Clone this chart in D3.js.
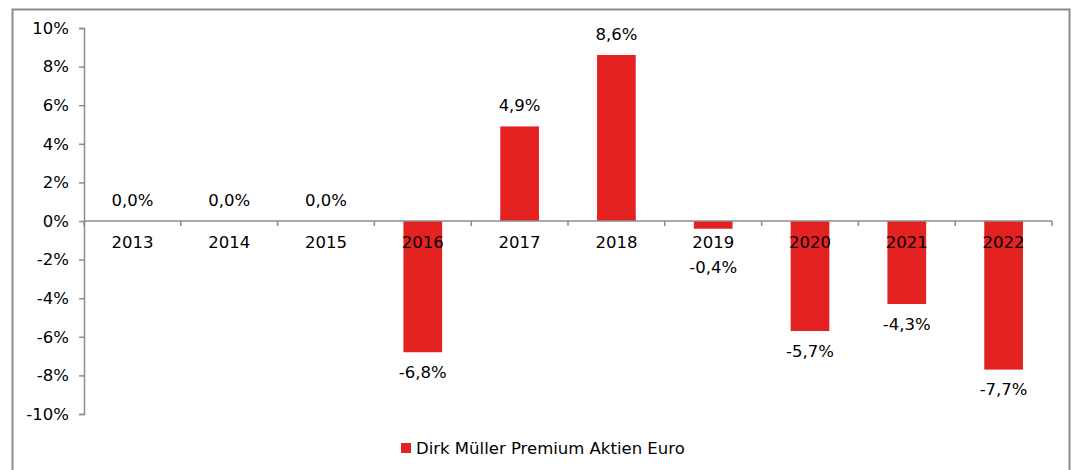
<!DOCTYPE html>
<html>
<head>
<meta charset="utf-8">
<script src="https://cdn.jsdelivr.net/npm/d3@7"></script>
<style>
body { margin:0; background:#fff; }
svg { font-family: Verdana, "DejaVu Sans", sans-serif; }
</style>
</head>
<body>
<script>
// Jahre und Werte
const years = ["2013","2014","2015","2016","2017","2018","2019","2020","2021","2022"];
const values = [0.0, 0.0, 0.0, -6.8, 4.9, 8.6, -0.4, -5.7, -4.3, -7.7];
const yTicks = [-10,-8,-6,-4,-2,0,2,4,6,8,10];
const seriesName = "Dirk Müller Premium Aktien Euro";

const width = 1075, height = 470;
const plot = {left:84, right:1052, top:28, bottom:414};
const red = "#e52222";
const axisColor = "#8c8c8c";
const fontSize = "16.5px";

const svg = d3.select("body").append("svg")
  .attr("width", width)
  .attr("height", height);

// outer frame
svg.append("rect")
  .attr("x", 12.5).attr("y", 9.5)
  .attr("width", 1057).attr("height", 470)
  .attr("fill", "none")
  .attr("stroke", axisColor)
  .attr("stroke-width", 2);

const x = d3.scaleBand()
  .domain(years)
  .range([plot.left, plot.right])
  .paddingInner(0.6)
  .paddingOuter(0.3);

const y = d3.scaleLinear()
  .domain([-10, 10])
  .range([plot.bottom, plot.top]);

// bars
svg.selectAll("rect.bar")
  .data(values)
  .enter()
  .append("rect")
  .attr("class","bar")
  .attr("x", function(d,i){ return x(years[i]); })
  .attr("y", function(d){ return y(Math.max(0,d)); })
  .attr("width", x.bandwidth())
  .attr("height", function(d){ return Math.abs(y(d) - y(0)); })
  .attr("fill", red);

// y axis
const yAxis = svg.append("g")
  .attr("transform","translate(" + plot.left + ",0)")
  .call(d3.axisLeft(y).tickValues(yTicks).tickSize(5).tickPadding(10)
    .tickFormat(function(d){ return d + "%"; }));
yAxis.select(".domain").attr("stroke", axisColor).attr("stroke-width", 1.5);
yAxis.selectAll(".tick line").attr("stroke", axisColor).attr("stroke-width", 1.5);
yAxis.selectAll(".tick text")
  .attr("fill","#000")
  .attr("font-size",fontSize)
  .attr("font-family","Verdana, 'DejaVu Sans', sans-serif");

// zero line with category boundary ticks
const step = x.step();
svg.append("line")
  .attr("x1", plot.left).attr("x2", plot.right)
  .attr("y1", y(0)).attr("y2", y(0))
  .attr("stroke", axisColor).attr("stroke-width", 1.5);
svg.selectAll("line.cat")
  .data(d3.range(years.length + 1))
  .enter()
  .append("line")
  .attr("class","cat")
  .attr("x1", function(i){ return plot.left + i*step; })
  .attr("x2", function(i){ return plot.left + i*step; })
  .attr("y1", y(0)).attr("y2", y(0) + 5)
  .attr("stroke", axisColor).attr("stroke-width", 1.5);

// year labels
svg.selectAll("text.year")
  .data(years)
  .enter()
  .append("text")
  .attr("class","year")
  .attr("x", function(d){ return x(d) + x.bandwidth()/2; })
  .attr("y", y(0) + 21)
  .attr("dy","0.35em")
  .attr("text-anchor","middle")
  .attr("font-size",fontSize)
  .text(function(d){ return d; });

// value labels
svg.selectAll("text.val")
  .data(values)
  .enter()
  .append("text")
  .attr("class","val")
  .attr("x", function(d,i){ return x(years[i]) + x.bandwidth()/2; })
  .attr("y", function(d,i){
    if (d >= 0) return y(d) - 21;
    return y(d) + (d > -1 ? 39 : 20);
  })
  .attr("dy","0.35em")
  .attr("text-anchor","middle")
  .attr("font-size",fontSize)
  .text(function(d){ return d.toFixed(1).replace(".", ",") + "%"; });

// legend
const legend = svg.append("g")
  .attr("transform","translate(401,448)");
legend.append("rect")
  .attr("x",0).attr("y",-5)
  .attr("width",10).attr("height",10)
  .attr("fill",red);
legend.append("text")
  .attr("x",15).attr("y",0)
  .attr("dy","0.35em")
  .attr("font-size",fontSize)
  .text(seriesName);
</script>
</body>
</html>
